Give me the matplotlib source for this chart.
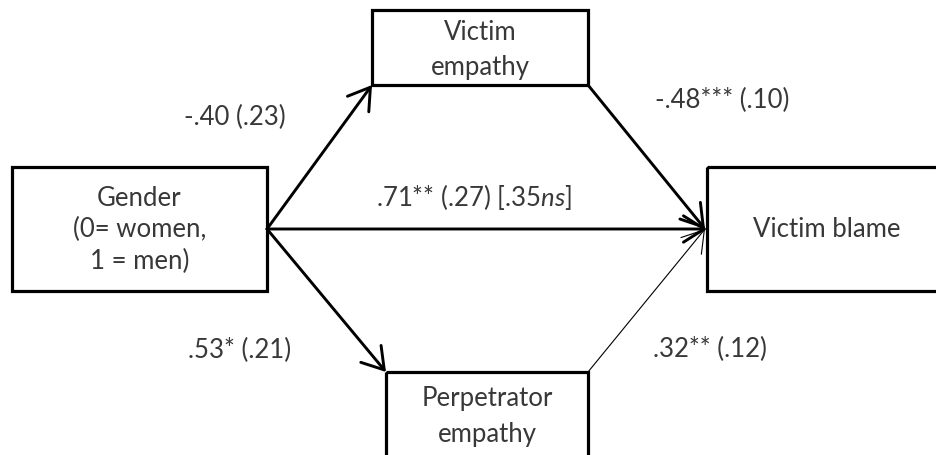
import matplotlib.pyplot as plt
from matplotlib.patches import Rectangle, FancyArrowPatch

plt.rcParams['font.family'] = ['Lato', 'DejaVu Sans']
plt.rcParams['mathtext.fontset'] = 'custom'
plt.rcParams['mathtext.rm'] = 'Lato'
plt.rcParams['mathtext.it'] = 'Lato:italic'

# boxes of the mediation model
node_names = ['Gender\n(0= women,\n1 = men)', 'Victim\nempathy', 'Perpetrator\nempathy', 'Victim blame']
# path coefficients (SE)
path_a1 = '-.40 (.23)'
path_b1 = '-.48*** (.10)'
path_c = '.71** (.27) [.35$\\it{ns}$]'
path_a2 = '.53* (.21)'
path_b2 = '.32** (.12)'

txtcol = '#383838'
fs = 18.5

fig = plt.figure(figsize=(9.37, 4.56), dpi=100)
ax = fig.add_axes([0, 0, 1, 1])
ax.set_xlim(0, 937)
ax.set_ylim(456, 0)
ax.axis('off')

# (x, y, w, h) in pixel units, y downward
boxes = [(12, 168, 255, 124), (372, 11, 216, 75), (386, 373, 202, 100), (707, 168, 260, 124)]
lsp = [1.3, 1.55, 1.55, 1.2]
cys = [230, 50, 417, 230]
for (x, y, w, h), name, ls, cy in zip(boxes, node_names, lsp, cys):
    ax.add_patch(Rectangle((x, y), w, h, fill=False, ec='black', lw=2.3, zorder=3))
    cx = x + w / 2 if x + w < 937 else 827
    ax.text(cx, cy, name, ha='center', va='center', fontsize=fs, color=txtcol, linespacing=ls)

def arrow(p0, p1, lw):
    a = FancyArrowPatch(p0, p1, arrowstyle='->,head_length=0.6,head_width=0.38',
                        mutation_scale=25, lw=lw, color='black', shrinkA=0, shrinkB=0, zorder=2)
    ax.add_patch(a)

arrow((267, 230), (372, 86), 2.1)
arrow((267, 230), (386, 373), 2.1)
arrow((267, 230), (707, 230), 2.1)
arrow((588, 86), (705, 230), 2.1)
arrow((588, 373), (705, 230), 0.8)

ax.text(235, 117, path_a1, ha='center', va='center', fontsize=fs, color=txtcol)
ax.text(722, 100, path_b1, ha='center', va='center', fontsize=fs, color=txtcol)
ax.text(474, 197, path_c, ha='center', va='center', fontsize=fs, color=txtcol)
ax.text(240, 350, path_a2, ha='center', va='center', fontsize=fs, color=txtcol)
ax.text(710, 349, path_b2, ha='center', va='center', fontsize=fs, color=txtcol)

fig.savefig('out.png', dpi=100, facecolor='white')
